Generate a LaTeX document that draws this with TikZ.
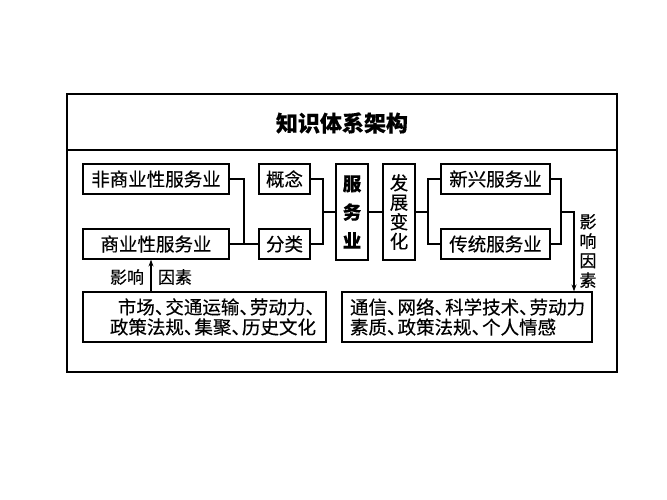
\documentclass[tikz,border=0pt]{standalone}
\usepackage{fontspec}
\setmainfont{Noto Sans CJK SC}[FakeBold=0.3]
\usetikzlibrary{arrows.meta}
\newcommand\dn{\makebox[0.57em][l]{、}}
\tikzset{
  box/.style={draw, line width=1.2pt, inner sep=0pt, font=\fontsize{18.5}{20}\selectfont},
  vbox/.style={box, align=center},
  lbl/.style={inner sep=0pt, font=\fontsize{17}{20}\selectfont},
  conn/.style={line width=1.2pt},
  arr/.style={line width=1.2pt, -{Stealth[length=7pt,width=5pt]}}
}
\begin{document}
\begin{tikzpicture}[x=1pt,y=-1pt]
\useasboundingbox (0,0) rectangle (667,500);
% frame
\draw[line width=1.3pt] (67,94) rectangle (617,372);
\draw[line width=1.3pt] (67,150) -- (617,150);
\node[inner sep=0pt, font=\fontsize{22}{24}\selectfont\bfseries] (title) at (342,123) {知识体系架构};
% boxes
\node[box, minimum width=146, minimum height=30] (fei) at (156,179) {非商业性服务业};
\node[box, minimum width=146, minimum height=30] (shang) at (156,244) {商业性服务业};
\node[box, minimum width=51, minimum height=30] (gn) at (284.5,179) {概念};
\node[box, minimum width=51, minimum height=30] (fl) at (284.5,244) {分类};
\node[vbox, minimum width=32, minimum height=96, font=\fontsize{18.5}{28.5}\selectfont\bfseries] (fwy) at (352,212) {服\\务\\业};
\node[vbox, minimum width=32, minimum height=96, font=\fontsize{18.5}{19.5}\selectfont] (fz) at (399,212) {发\\展\\变\\化};
\node[box, minimum width=109, minimum height=30] (xx) at (495.5,179) {新兴服务业};
\node[box, minimum width=109, minimum height=30] (ct) at (495.5,244) {传统服务业};
\node[box, minimum width=243, minimum height=50, align=right, text width=223, inner xsep=0pt] (bl) at (204.5,317) {市场\dn 交通运输\dn 劳动力\dn\\政策法规\dn 集聚\dn 历史文化};
\node[box, minimum width=250, minimum height=50, align=left, text width=234] (br) at (467,317) {通信\dn 网络\dn 科学技术\dn 劳动力\\素质\dn 政策法规\dn 个人情感};
% connectors
\coordinate (j1) at (244,244);
\draw[conn] (fei.east) -| (j1);
\draw[conn] (shang.east) -- (fl.west);
\coordinate (j2) at (323,212);
\draw[conn] (gn.east) -| (j2) |- (fl.east);
\draw[conn] (j2) -- (fwy.west);
\draw[conn] (fwy.east) -- (fz.west);
\coordinate (j3) at (428,212);
\draw[conn] (xx.west) -| (j3) |- (ct.west);
\draw[conn] (fz.east) -- (j3);
\coordinate (j4) at (561,212);
\draw[conn] (xx.east) -| (j4) |- (ct.east);
\coordinate (j5) at (574,212);
\draw[arr] (j4) -- (j5) -- (j5 |- br.north);
\coordinate (a) at (151,0);
\draw[arr] (a |- bl.north) -- (a |- shang.south);
% labels
\node[lbl] (l1) at (127,277) {影响};
\node[lbl] (l2) at (175,277) {因素};
\node[lbl, align=center, font=\fontsize{17}{19.5}\selectfont] (l3) at (588,251) {影\\响\\因\\素};
\end{tikzpicture}
\end{document}
